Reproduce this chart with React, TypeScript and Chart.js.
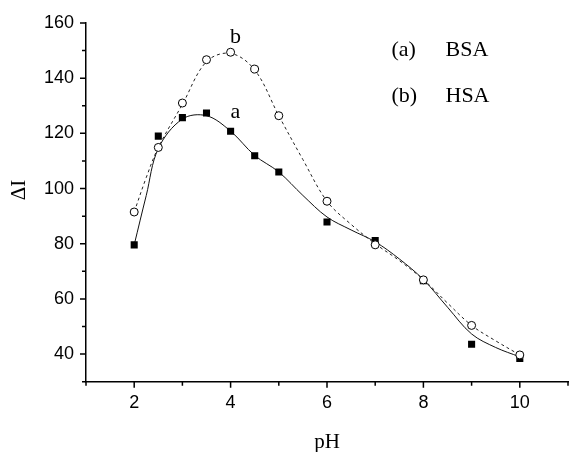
import React, { useEffect, useRef } from 'react';
import { Chart, registerables } from 'chart.js';

Chart.register(...registerables);

// measured points
const pH = [2, 2.5, 3, 3.5, 4, 4.5, 5, 6, 7, 8, 9, 10];
const bsa = [79.6, 119, 125.7, 127.4, 120.8, 111.9, 106, 87.9, 81.2, 66.6, 43.6, 38.4];
const hsa = [91.5, 114.9, 131, 146.7, 149.4, 143.3, 126.4, 95.4, 79.6, 66.9, 50.4, 39.7];

// smooth fitted curves
const fitPH = [2, 2.25, 2.5, 3, 3.5, 4, 4.5, 5, 5.5, 6, 6.5, 7, 7.5, 8, 8.5, 9, 9.5, 10];
const bsaFit = [79.6, 97.5, 114.5, 125.2, 126.4, 120.8, 112, 106, 97.5, 89.7, 85, 80.7, 74.5, 67, 57, 47.3, 42.4, 39];
const hsaFit = [91.5, 104, 114.9, 130.5, 146, 149, 143, 126.4, 110.5, 95.4, 87, 80, 73.9, 67, 58.5, 50.4, 44.8, 39.7];

const xLabels = [2, 4, 6, 8, 10];
const yLabels = [40, 60, 80, 100, 120, 140, 160];
const legendKeys = ['(a)', '(b)'];
const legendNames = ['BSA', 'HSA'];
const curveTags = ['a', 'b'];

const SERIF = '"Liberation Serif", "Times New Roman", serif';
const SANS = '"Liberation Sans", Arial, sans-serif';

const decor = {
  id: 'decor',
  afterDraw(chart: any) {
    const { ctx, scales, chartArea } = chart;
    const x = scales.x;
    const y = scales.y;
    ctx.save();
    ctx.strokeStyle = '#000';
    ctx.lineWidth = 1.5;
    ctx.beginPath();
    x.ticks.forEach((t: any) => {
      const px = x.getPixelForValue(t.value);
      const len = xLabels.includes(t.value) ? 6 : 4;
      ctx.moveTo(px, chartArea.bottom);
      ctx.lineTo(px, chartArea.bottom + len);
    });
    y.ticks.forEach((t: any) => {
      const py = y.getPixelForValue(t.value);
      const len = yLabels.includes(t.value) ? 6 : 4;
      ctx.moveTo(chartArea.left, py);
      ctx.lineTo(chartArea.left - len, py);
    });
    ctx.stroke();

    ctx.fillStyle = '#000';
    // curve tags
    ctx.font = `22px ${SERIF}`;
    ctx.textAlign = 'center';
    ctx.textBaseline = 'alphabetic';
    ctx.fillText(curveTags[0], x.getPixelForValue(4.1), y.getPixelForValue(125.6));
    ctx.fillText(curveTags[1], x.getPixelForValue(4.1), y.getPixelForValue(152.8));

    // legend
    ctx.textAlign = 'left';
    ctx.fillText(legendKeys[0], 391.5, 55.5);
    ctx.fillText(legendNames[0], 445.5, 55.5);
    ctx.fillText(legendKeys[1], 391.5, 101.5);
    ctx.fillText(legendNames[1], 445.5, 101.5);

    // axis titles
    ctx.font = `21px ${SERIF}`;
    ctx.textAlign = 'center';
    ctx.fillText('pH', (chartArea.left + chartArea.right) / 2, 448);
    ctx.translate(19, 190);
    ctx.rotate(-Math.PI / 2);
    ctx.textBaseline = 'middle';
    ctx.fillText('ΔI', 0, 0);
    ctx.restore();
  },
};

export default function App() {
  const ref = useRef<HTMLCanvasElement>(null);
  useEffect(() => {
    document.body.style.margin = '0';
    const canvas = ref.current!;
    const toPts = (xs: number[], ys: number[]) => xs.map((v, i) => ({ x: v, y: ys[i] }));
    const chart = new Chart(canvas, {
      type: 'scatter',
      data: {
        datasets: [
          {
            label: 'HSA',
            data: toPts(pH, hsa),
            pointStyle: 'circle',
            pointRadius: 4,
            pointBackgroundColor: '#fff',
            pointBorderColor: '#000',
            pointBorderWidth: 1,
            showLine: false,
          },
          {
            label: 'BSA',
            data: toPts(pH, bsa),
            pointStyle: 'rect',
            pointRadius: 5,
            pointBackgroundColor: '#000',
            pointBorderColor: '#000',
            pointBorderWidth: 0,
            showLine: false,
          },
          {
            label: 'HSA fit',
            data: toPts(fitPH, hsaFit),
            showLine: true,
            pointRadius: 0,
            borderColor: '#222',
            borderWidth: 1,
            borderDash: [3, 3],
            tension: 0.35,
          },
          {
            label: 'BSA fit',
            data: toPts(fitPH, bsaFit),
            showLine: true,
            pointRadius: 0,
            borderColor: '#111',
            borderWidth: 1,
            tension: 0.35,
          },
        ],
      },
      options: {
        responsive: false,
        animation: false,
        layout: { padding: { top: 23, right: 0, bottom: 0, left: 0 } },
        plugins: { legend: { display: false }, tooltip: { enabled: false } },
        scales: {
          x: {
            type: 'linear',
            min: 1,
            max: 11,
            afterFit: (s: any) => { s.height = 70.3; },
            grid: { display: false, drawTicks: true, tickLength: 6 },
            border: { display: true, color: '#000', width: 1.5 },
            ticks: {
              stepSize: 1,
              autoSkip: false,
              maxRotation: 0,
              padding: 5,
              color: '#000',
              font: { family: SANS, size: 18 },
              callback: (v: any) => (xLabels.includes(Number(v)) ? String(v) : ''),
            },
          },
          y: {
            type: 'linear',
            min: 30,
            max: 160,
            afterFit: (s: any) => { s.width = 86; },
            grid: { display: false, drawTicks: true, tickLength: 6 },
            border: { display: true, color: '#000', width: 1.5 },
            ticks: {
              stepSize: 10,
              autoSkip: false,
              padding: 6,
              color: '#000',
              font: { family: SANS, size: 18 },
              callback: (v: any) => (yLabels.includes(Number(v)) ? String(v) : ''),
            },
          },
        },
      },
      plugins: [decor],
    });
    return () => chart.destroy();
  }, []);
  return <canvas ref={ref} width={573} height={452} style={{ display: 'block' }} />;
}
